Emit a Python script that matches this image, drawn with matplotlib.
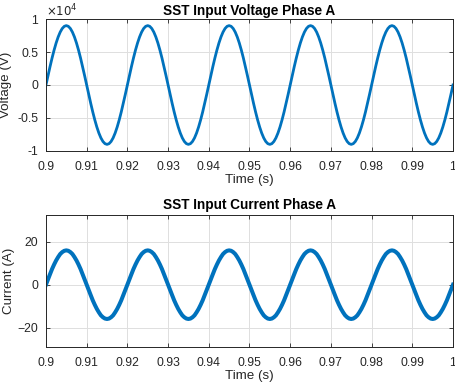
import numpy as np
import matplotlib
matplotlib.use('Agg')
import matplotlib.pyplot as plt

plt.rcParams['font.family'] = ['Liberation Sans', 'DejaVu Sans']

# samples every 0.5 ms from 0.9 s to 1.0 s
t_start, t_end, n_samples = 0.9, 1.0, 201

# voltage (V), one row per cycle
voltage = [
    0, 1408, 2781, 4086, 5290, 6364, 7281, 8019, 8560, 8889, 9000, 8889, 8560, 8019, 7281, 6364, 5290, 4086, 2781, 1408,
    0, -1408, -2781, -4086, -5290, -6364, -7281, -8019, -8560, -8889, -9000, -8889, -8560, -8019, -7281, -6364, -5290, -4086, -2781, -1408,
    0, 1408, 2781, 4086, 5290, 6364, 7281, 8019, 8560, 8889, 9000, 8889, 8560, 8019, 7281, 6364, 5290, 4086, 2781, 1408,
    0, -1408, -2781, -4086, -5290, -6364, -7281, -8019, -8560, -8889, -9000, -8889, -8560, -8019, -7281, -6364, -5290, -4086, -2781, -1408,
    0, 1408, 2781, 4086, 5290, 6364, 7281, 8019, 8560, 8889, 9000, 8889, 8560, 8019, 7281, 6364, 5290, 4086, 2781, 1408,
    0, -1408, -2781, -4086, -5290, -6364, -7281, -8019, -8560, -8889, -9000, -8889, -8560, -8019, -7281, -6364, -5290, -4086, -2781, -1408,
    0, 1408, 2781, 4086, 5290, 6364, 7281, 8019, 8560, 8889, 9000, 8889, 8560, 8019, 7281, 6364, 5290, 4086, 2781, 1408,
    0, -1408, -2781, -4086, -5290, -6364, -7281, -8019, -8560, -8889, -9000, -8889, -8560, -8019, -7281, -6364, -5290, -4086, -2781, -1408,
    0, 1408, 2781, 4086, 5290, 6364, 7281, 8019, 8560, 8889, 9000, 8889, 8560, 8019, 7281, 6364, 5290, 4086, 2781, 1408,
    0, -1408, -2781, -4086, -5290, -6364, -7281, -8019, -8560, -8889, -9000, -8889, -8560, -8019, -7281, -6364, -5290, -4086, -2781, -1408,
    0,
]

# current (A)
current = [
    0, 2.5, 4.9, 7.3, 9.4, 11.3, 12.9, 14.3, 15.2, 15.8, 16.0, 15.8, 15.2, 14.3, 12.9, 11.3, 9.4, 7.3, 4.9, 2.5,
    0, -2.5, -4.9, -7.3, -9.4, -11.3, -12.9, -14.3, -15.2, -15.8, -16.0, -15.8, -15.2, -14.3, -12.9, -11.3, -9.4, -7.3, -4.9, -2.5,
    0, 2.5, 4.9, 7.3, 9.4, 11.3, 12.9, 14.3, 15.2, 15.8, 16.0, 15.8, 15.2, 14.3, 12.9, 11.3, 9.4, 7.3, 4.9, 2.5,
    0, -2.5, -4.9, -7.3, -9.4, -11.3, -12.9, -14.3, -15.2, -15.8, -16.0, -15.8, -15.2, -14.3, -12.9, -11.3, -9.4, -7.3, -4.9, -2.5,
    0, 2.5, 4.9, 7.3, 9.4, 11.3, 12.9, 14.3, 15.2, 15.8, 16.0, 15.8, 15.2, 14.3, 12.9, 11.3, 9.4, 7.3, 4.9, 2.5,
    0, -2.5, -4.9, -7.3, -9.4, -11.3, -12.9, -14.3, -15.2, -15.8, -16.0, -15.8, -15.2, -14.3, -12.9, -11.3, -9.4, -7.3, -4.9, -2.5,
    0, 2.5, 4.9, 7.3, 9.4, 11.3, 12.9, 14.3, 15.2, 15.8, 16.0, 15.8, 15.2, 14.3, 12.9, 11.3, 9.4, 7.3, 4.9, 2.5,
    0, -2.5, -4.9, -7.3, -9.4, -11.3, -12.9, -14.3, -15.2, -15.8, -16.0, -15.8, -15.2, -14.3, -12.9, -11.3, -9.4, -7.3, -4.9, -2.5,
    0, 2.5, 4.9, 7.3, 9.4, 11.3, 12.9, 14.3, 15.2, 15.8, 16.0, 15.8, 15.2, 14.3, 12.9, 11.3, 9.4, 7.3, 4.9, 2.5,
    0, -2.5, -4.9, -7.3, -9.4, -11.3, -12.9, -14.3, -15.2, -15.8, -16.0, -15.8, -15.2, -14.3, -12.9, -11.3, -9.4, -7.3, -4.9, -2.5,
    0,
]

x_ticks = [0.9, 0.91, 0.92, 0.93, 0.94, 0.95, 0.96, 0.97, 0.98, 0.99, 1.0]
x_ticklabels = ['0.9', '0.91', '0.92', '0.93', '0.94', '0.95', '0.96', '0.97', '0.98', '0.99', '1']
v_ticks = [-1e4, -5e3, 0, 5e3, 1e4]
v_ticklabels = ['-1', '-0.5', '0', '0.5', '1']
i_ticks = [-20, 0, 20]

t = np.linspace(t_start, t_end, n_samples)

line_color = '#0072BD'
text_color = '#262626'

fig = plt.figure(figsize=(4.55, 3.84), dpi=100)
ax1 = fig.add_axes([0.101, 0.6068, 0.8946, 0.3437])
ax2 = fig.add_axes([0.101, 0.0956, 0.8946, 0.3445])


def style(ax):
    ax.set_xlim(t_start, t_end)
    ax.set_xticks(x_ticks)
    ax.set_xticklabels(x_ticklabels)
    ax.grid(True, color='#dfdfdf', linewidth=0.7)
    ax.set_axisbelow(True)
    ax.tick_params(direction='in', top=True, right=True, length=3, width=0.6,
                   labelsize=8.8, colors=text_color)
    ax.tick_params(axis='x', pad=7)
    ax.tick_params(axis='y', pad=5.5)
    for s in ax.spines.values():
        s.set_color(text_color)
        s.set_linewidth(0.7)
    ax.set_xlabel('Time (s)', fontsize=9.6, color=text_color, labelpad=1)


ax1.plot(t, voltage, color=line_color, linewidth=2.0)
style(ax1)
ax1.set_ylim(-1e4, 1e4)
ax1.set_yticks(v_ticks)
ax1.set_yticklabels(v_ticklabels)
ax1.set_ylabel('Voltage (V)', fontsize=9.6, color=text_color)
ax1.yaxis.set_label_coords(-0.0835, 0.5)
ax1.set_title('SST Input Voltage Phase A', fontsize=9.8, fontweight='bold', pad=3)
ax1.text(0.0, 0.995, r'$\times10^4$', transform=ax1.transAxes, fontsize=8.5,
         color=text_color, ha='left', va='bottom')

ax2.plot(t, current, color=line_color, linewidth=2.9)
style(ax2)
ax2.set_ylim(-29.2, 32.5)
ax2.set_yticks(i_ticks)
ax2.set_ylabel('Current (A)', fontsize=9.6, color=text_color)
ax2.yaxis.set_label_coords(-0.076, 0.5)
ax2.set_title('SST Input Current Phase A', fontsize=9.8, fontweight='bold', pad=4)

fig.savefig('out.png', dpi=100)
